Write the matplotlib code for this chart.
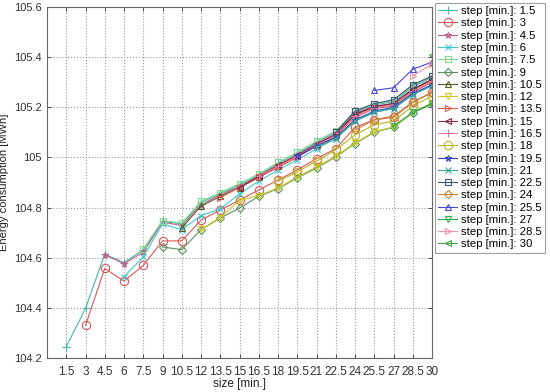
import matplotlib
matplotlib.use("Agg")
import matplotlib.pyplot as plt

plt.rcParams['font.family'] = ['Liberation Sans', 'DejaVu Sans']

sizes = [1.5, 3, 4.5, 6, 7.5, 9, 10.5, 12, 13.5, 15, 16.5, 18, 19.5, 21, 22.5, 24, 25.5, 27, 28.5, 30]
steps = [1.5, 3, 4.5, 6, 7.5, 9, 10.5, 12, 13.5, 15, 16.5, 18, 19.5, 21, 22.5, 24, 25.5, 27, 28.5, 30]

# each series starts at size == step
s_1_5 = [104.245, 104.398, 104.614, 104.580, 104.632, 104.745, 104.735, 104.820, 104.855, 104.890,
         104.930, 104.975, 105.015, 105.060, 105.100, 105.180, 105.210, 105.222, 105.280, 105.320]
s_3 = [104.330, 104.557, 104.507, 104.569, 104.667, 104.667, 104.750, 104.790, 104.830, 104.870,
       104.910, 104.950, 104.995, 105.035, 105.120, 105.150, 105.160, 105.220, 105.260]
s_4_5 = [104.612, 104.576, 104.622, 104.742, 104.728, 104.812, 104.850, 104.885, 104.925, 104.970,
         105.010, 105.055, 105.095, 105.175, 105.205, 105.215, 105.270, 105.310]
s_6 = [104.524, 104.603, 104.735, 104.712, 104.768, 104.795, 104.855, 104.905, 104.950, 104.990,
       105.035, 105.075, 105.145, 105.180, 105.195, 105.250, 105.290]
s_7_5 = [104.635, 104.748, 104.738, 104.825, 104.860, 104.895, 104.935, 104.980, 105.020, 105.065,
         105.105, 105.185, 105.212, 105.228, 105.285, 105.325]
s_9 = [104.643, 104.632, 104.712, 104.758, 104.798, 104.845, 104.875, 104.918, 104.958, 105.002,
       105.055, 105.100, 105.120, 105.178, 105.212]
s_10_5 = [104.720, 104.805, 104.845, 104.880, 104.920, 104.965, 105.005, 105.050, 105.090, 105.170,
          105.200, 105.215, 105.270, 105.310]
s_12 = [104.713, 104.760, 104.828, 104.848, 104.878, 104.922, 104.962, 105.005, 105.058, 105.102,
        105.122, 105.180, 105.218]
s_13_5 = [104.840, 104.880, 104.920, 104.960, 105.000, 105.045, 105.085, 105.160, 105.195, 105.205,
          105.260, 105.300]
s_15 = [104.880, 104.925, 104.968, 105.008, 105.052, 105.092, 105.172, 105.202, 105.215, 105.272, 105.312]
s_16_5 = [104.925, 104.965, 105.005, 105.048, 105.088, 105.165, 105.198, 105.210, 105.265, 105.305]
s_18 = [104.905, 104.942, 104.985, 105.030, 105.090, 105.130, 105.145, 105.205, 105.245]
s_19_5 = [105.005, 105.045, 105.080, 105.150, 105.185, 105.200, 105.255, 105.290]
s_21 = [105.040, 105.075, 105.145, 105.180, 105.195, 105.250, 105.285]
s_22_5 = [105.100, 105.185, 105.215, 105.230, 105.290, 105.325]
s_24 = [105.110, 105.150, 105.165, 105.220, 105.258]
s_25_5 = [105.267, 105.278, 105.352, 105.380]
s_27 = [105.125, 105.180, 105.215]
s_28_5 = [105.325, 105.372]
s_30 = [105.408]

series = [s_1_5, s_3, s_4_5, s_6, s_7_5, s_9, s_10_5, s_12, s_13_5, s_15,
          s_16_5, s_18, s_19_5, s_21, s_22_5, s_24, s_25_5, s_27, s_28_5, s_30]

colors = ['#3fb8a8', '#d85858', '#c0608a', '#40c8d0', '#80d890', '#5f9060', '#5a5a30', '#d0c820',
          '#e06050', '#8a2848', '#e87898', '#b8b820', '#3048c8', '#38a898', '#405878', '#c88030',
          '#4848d0', '#30b050', '#e898a8', '#48a048']
markers = ['+', 'o', '*', 'x', 's', 'D', '^', 'v', '>', '<', '+', 'o', '*', 'x', 's', 'D', '^', 'v', '>', '<']
msizes = [6, 6, 5, 5, 5, 4, 5, 5, 5, 5, 6, 6, 5, 5, 5, 4, 5, 5, 5, 5]

fig = plt.figure(figsize=(5.5, 3.92), dpi=100)
ax = fig.add_axes([47/550, 1 - 358/392, 385/550, 351/392])

for st, vals, c, m, ms in zip(steps, series, colors, markers, msizes):
    start = sizes.index(st)
    xs = sizes[start:start + len(vals)]
    ax.plot(xs, vals, color=c, marker=m, markersize=ms, markerfacecolor='none',
            markeredgewidth=0.8, linewidth=0.8, label=f'step [min.]: {st:g}')

ax.set_xlim(0, 30)
ax.set_ylim(104.2, 105.6)
ax.set_xticks(sizes)
ax.set_xticklabels([f'{s:g}' for s in sizes])
ax.set_yticks([104.2, 104.4, 104.6, 104.8, 105.0, 105.2, 105.4, 105.6])
ax.set_yticklabels(['104.2', '104.4', '104.6', '104.8', '105', '105.2', '105.4', '105.6'])
ax.grid(True, linestyle=':', color='#999999', linewidth=0.8)
ax.tick_params(direction='in', labelsize=8.5, colors='#333333', length=3, width=0.6)
ax.tick_params(axis='x', pad=6)
ax.tick_params(axis='y', pad=4, labelsize=8)
ax.tick_params(top=True, right=True, labeltop=False, labelright=False)
for sp in ax.spines.values():
    sp.set_color('#666666')
    sp.set_linewidth(0.8)
ax.set_xlabel('size [min.]', fontsize=8.5, color='#222222', labelpad=0)
ax.set_ylabel('Energy consumption [MWh]', fontsize=8, color='#222222')
ax.yaxis.set_label_coords(-0.098, 0.5)

leg = ax.legend(loc='upper left', bbox_to_anchor=(1.007, 1.012), fontsize=8.2, frameon=True,
                fancybox=False, edgecolor='#888888', borderaxespad=0, labelspacing=0.2,
                handlelength=1.7, handletextpad=0.3, borderpad=0.3)
leg.get_frame().set_linewidth(0.8)

fig.savefig('out.png', dpi=100)
